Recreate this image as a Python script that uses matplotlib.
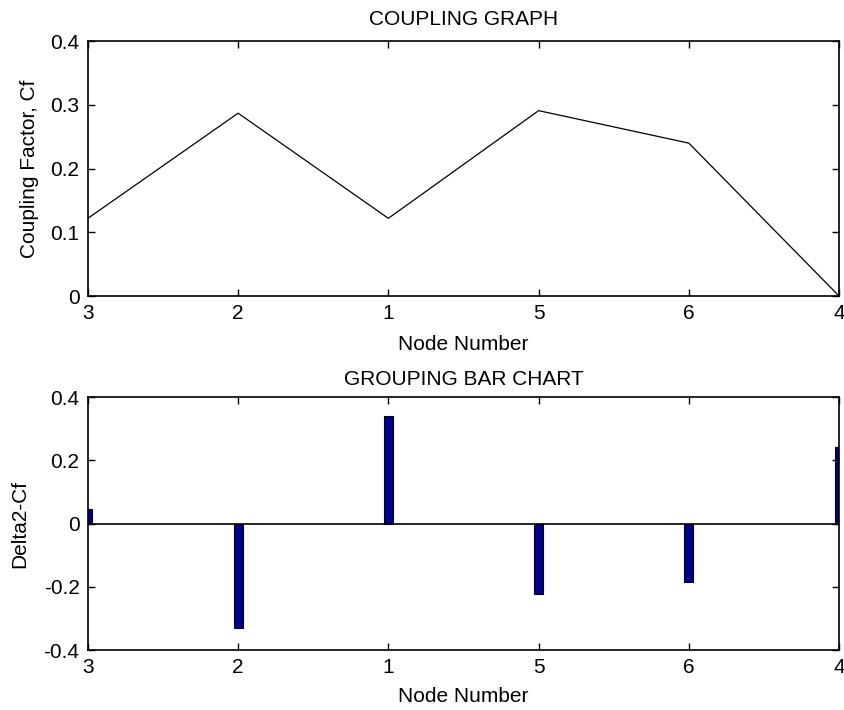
import matplotlib
matplotlib.use("Agg")
import matplotlib.pyplot as plt

# node order along the x axis
nodes = ["3", "2", "1", "5", "6", "4"]
positions = [1, 2, 3, 4, 5, 6]

# coupling factor per node (top panel)
coupling = [0.122, 0.287, 0.122, 0.291, 0.240, 0.0]

# delta2 - cf per node (bottom panel)
delta = [0.046, -0.331, 0.341, -0.223, -0.184, 0.242]

plt.rcParams['font.family'] = ['Liberation Sans', 'DejaVu Sans']
plt.rcParams['font.size'] = 15

fig = plt.figure(figsize=(8.45, 7.1), dpi=100)
ax1 = fig.add_axes([0.104, 0.583, 0.889, 0.359])
ax2 = fig.add_axes([0.104, 0.0845, 0.889, 0.356])

def style(ax):
    ax.tick_params(direction='in', length=5, width=1, top=True, right=True,
                   labelsize=15, colors='black')
    ax.tick_params(axis='x', pad=6)
    ax.tick_params(axis='y', pad=6)
    for s in ax.spines.values():
        s.set_linewidth(1.2)
    ax.set_xlim(1, 6)
    ax.set_xticks(positions)
    ax.set_xticklabels(nodes)

ax1.plot(positions, coupling, color='black', lw=0.9)
ax1.set_ylim(0, 0.4)
ax1.set_yticks([0, 0.1, 0.2, 0.3, 0.4])
ax1.set_yticklabels(["0", "0.1", "0.2", "0.3", "0.4"])
style(ax1)
ax1.set_title("COUPLING GRAPH", fontsize=15, pad=12)
ax1.set_xlabel("Node Number", fontsize=15, labelpad=8)
ax1.set_ylabel("Coupling Factor, Cf", fontsize=15, labelpad=8)

ax2.bar(positions, delta, width=0.06, color='#00008f', edgecolor='black', lw=0.8)
ax2.axhline(0, color='black', lw=1.2)
ax2.set_ylim(-0.4, 0.4)
ax2.set_yticks([-0.4, -0.2, 0, 0.2, 0.4])
ax2.set_yticklabels(["-0.4", "-0.2", "0", "0.2", "0.4"])
style(ax2)
ax2.set_title("GROUPING BAR CHART", fontsize=15, pad=9)
ax2.set_xlabel("Node Number", fontsize=15, labelpad=7)
ax2.set_ylabel("Delta2-Cf", fontsize=15, labelpad=10)

fig.savefig("out.png", dpi=100, facecolor='white')
